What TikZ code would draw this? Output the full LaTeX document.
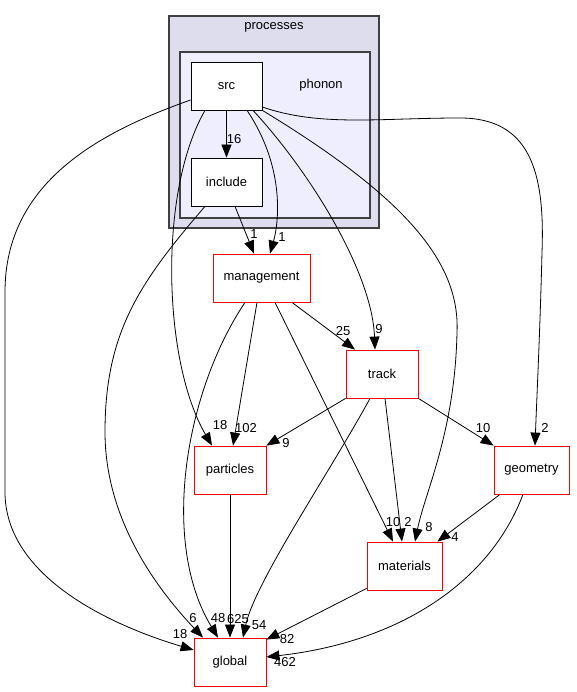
\documentclass[tikz,border=0pt]{standalone}
\usepackage{fontspec}
\setmainfont{Liberation Sans}
\usepackage{xcolor}
\usepackage{tikz}
\usetikzlibrary{shapes,arrows.meta,positioning}

\definecolor{outerfill}{HTML}{DDDDEE}
\definecolor{innerfill}{HTML}{EEEEFF}
\definecolor{clusterline}{HTML}{404040}

\begin{document}
\begin{tikzpicture}[
    x=1pt, y=1pt,
    font=\fontsize{13}{15}\selectfont,
    dirbox/.style={
        draw=black,
        fill=white,
        line width=0.8pt,
        inner sep=0pt,
        minimum height=48pt
    },
    extbox/.style={
        dirbox,
        draw=red
    },
    edge/.style={
        -{Triangle[length=13pt,width=10pt]},
        line width=0.8pt
    },
    elabel/.style={
        inner sep=0pt
    }
]
                \useasboundingbox (0,0) rectangle (576,692);

                % clusters
                \draw[
                    line width=1.2pt,
                    draw=clusterline,
                    fill=outerfill
                ] (169,676) rectangle (379,464);
                \node (lprocesses) at (274,665) {processes};

                \draw[
                    line width=1.2pt,
                    draw=clusterline,
                    fill=innerfill
                ] (180,640) rectangle (370,474);
                \node (lphonon) at (321,607) {phonon};

                % directories
                \node[dirbox, minimum width=71pt] (src) at (226.5,606) {src};
                \node[dirbox, minimum width=71pt] (include) at (226.5,510) {include};
                \node[extbox, minimum width=97pt] (management) at (261.5,414) {management};
                \node[extbox, minimum width=72pt] (track) at (382,318) {track};
                \node[extbox, minimum width=72pt] (particles) at (230,222) {particles};
                \node[extbox, minimum width=75pt] (geometry) at (531.5,222) {geometry};
                \node[extbox, minimum width=75pt] (materials) at (404.5,126) {materials};
                \node[extbox, minimum width=72pt] (global) at (230,30) {global};

                % edges from src
                \draw[edge] (src) -- (include);
                \draw[edge] ([xshift=20.5]src.south)
                    .. controls (285,525) and (279,470) .. ([xshift=8.5]management.north);
                \draw[edge] ([xshift=26.5]src.south)
                    .. controls (310,520) and (372,420) .. ([xshift=-7]track.north);
                \draw[edge] (src.south east)
                    .. controls (405,495) and (460,430) .. (457,360)
                    .. controls (455,260) and (425,200) .. ([xshift=10.5]materials.north);
                \draw[edge] ([yshift=-21]src.east)
                    .. controls (320,565) and (380,574) .. (460,574)
                    .. controls (530,574) and (545,520) .. (542,440)
                    .. controls (540,360) and (537,300) .. ([xshift=3.5]geometry.north);
                \draw[edge] ([xshift=-21.5]src.south)
                    .. controls (158,500) and (163,330) .. ([xshift=-18]particles.north);
                \draw[edge] ([yshift=-14]src.west)
                    .. controls (100,560) and (5,510) .. (5,400) -- (5,200)
                    .. controls (5,120) and (100,70) .. ([yshift=12]global.west);

                % edges from include
                \draw[edge] ([xshift=8.5]include.south) -- ([xshift=-7.5]management.north);
                \draw[edge] ([xshift=-21.5]include.south)
                    .. controls (140,410) and (105,360) .. (105,260)
                    .. controls (105,170) and (160,100) .. ([xshift=-27]global.north);

                % edges from management
                \draw[edge] ([xshift=-16.5]management.south)
                    .. controls (185,300) and (160,150) .. ([xshift=-12]global.north);
                \draw[edge] ([xshift=-4.5]management.south) -- ([xshift=3]particles.north);
                \draw[edge] ([xshift=13.5]management.south) -- ([xshift=-11.5]materials.north);
                \draw[edge] ([xshift=30.5]management.south) -- ([xshift=-27]track.north);

                % edges from track
                \draw[edge] (track.south west) -- (particles.north east);
                \draw[edge] ([xshift=-12]track.south)
                    .. controls (330,220) and (255,110) .. ([xshift=13]global.north);
                \draw[edge] ([xshift=3]track.south) -- ([xshift=-2.5]materials.north);
                \draw[edge] (track.south east) -- (geometry.north west);

                % remaining edges
                \draw[edge] (particles) -- (global);
                \draw[edge] ([xshift=-31.5]geometry.south) -- ([xshift=-5]materials.north east);
                \draw[edge] ([xshift=-8.5]geometry.south)
                    .. controls (490,110) and (400,50) .. ([yshift=5]global.east);
                \draw[edge] ([yshift=2]materials.south west) -- ([yshift=-2]global.north east);

                % edge labels
                \node[elabel] (lsrcinclude) at (234,553) {16};
                \node[elabel] (lincludemgmt) at (254,458) {1};
                \node[elabel] (lsrcmgmt) at (282,455) {1};
                \node[elabel] (lmgmttrack) at (343,361) {25};
                \node[elabel] (lsrctrack) at (379,363) {9};
                \node[elabel] (ltrackgeom) at (483,264) {10};
                \node[elabel] (lsrcgeom) at (545,264) {2};
                \node[elabel] (lsrcpart) at (220,267) {18};
                \node[elabel] (lmgmtpart) at (246,264) {102};
                \node[elabel] (ltrackpart) at (286,249) {9};
                \node[elabel] (lmgmtmat) at (393,170) {10};
                \node[elabel] (ltrackmat) at (408,170) {2};
                \node[elabel] (lsrcmat) at (429,165) {8};
                \node[elabel] (lgeommat) at (455,155) {4};
                \node[elabel] (lincludeglob) at (193,74) {6};
                \node[elabel] (lmgmtglob) at (218,74) {48};
                \node[elabel] (lpartglob) at (238,73) {625};
                \node[elabel] (ltrackglob) at (259,67) {54};
                \node[elabel] (lsrcglob) at (180,58) {18};
                \node[elabel] (lmatglob) at (287,53) {82};
                \node[elabel] (lgeomglob) at (285,30) {462};

            \end{tikzpicture}
\end{document}
